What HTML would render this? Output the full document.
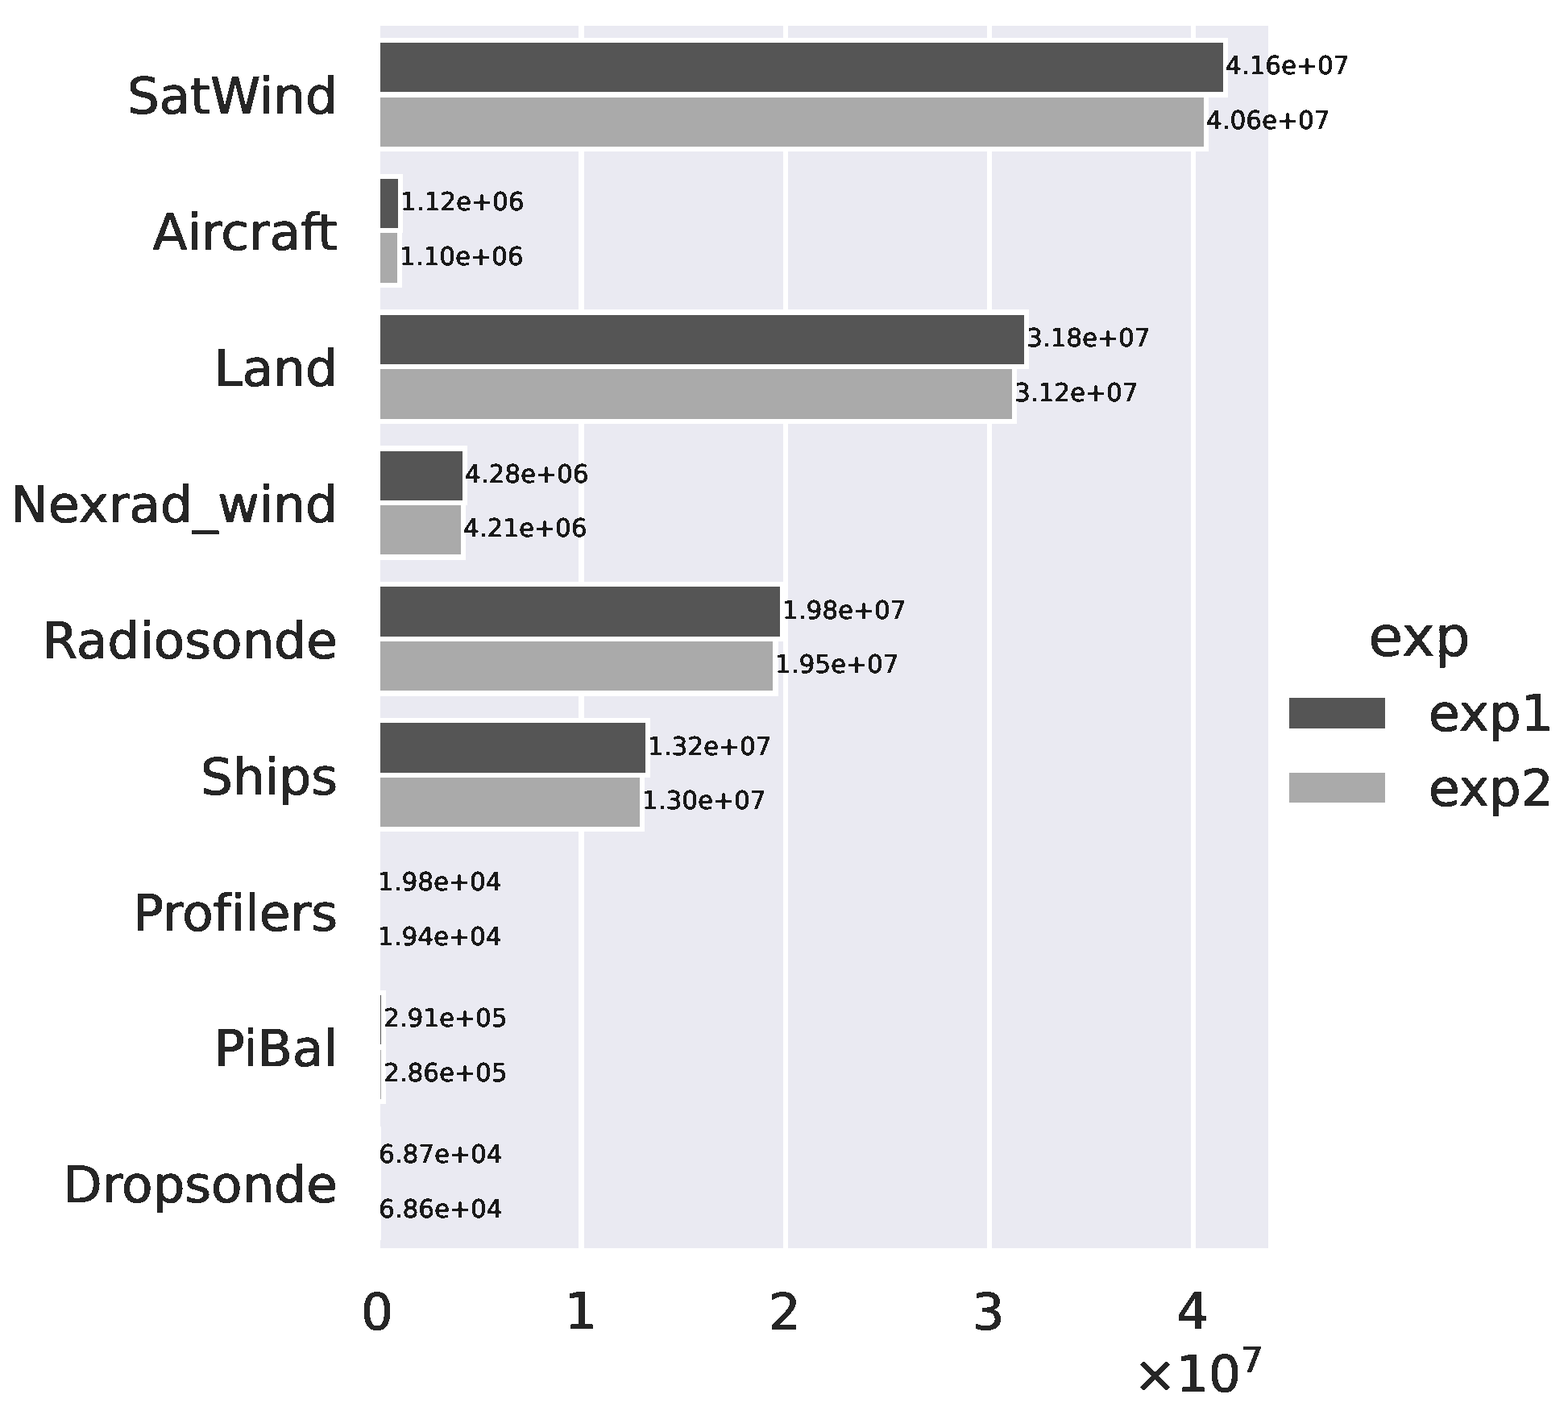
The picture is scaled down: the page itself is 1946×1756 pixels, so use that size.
<!DOCTYPE html>
<html lang="en">
<head>
<meta charset="utf-8">
<title>exp1 vs exp2 observation counts</title>
<style>
html,body{margin:0;padding:0;background:#ffffff}
body{width:1946px;height:1756px;overflow:hidden}
svg{display:block}
rect{shape-rendering:crispEdges}
text{font-family:'DejaVu Sans', 'Liberation Sans', sans-serif;font-kerning:normal;font-variant-ligatures:none;text-rendering:geometricPrecision;stroke-linejoin:miter}
.t{filter:url(#hardT);font-size:62.85px;fill:#262626;stroke:#262626;stroke-width:0.4}
.tt{filter:url(#hardT);font-size:69.1px;fill:#262626;stroke:#262626;stroke-width:0.1}
.a{filter:url(#hardA);font-size:31.25px;letter-spacing:-0.155px;fill:#1a1a1a;stroke:#1a1a1a;stroke-width:0.4}
.sup{font-size:43.99px}
.e{text-anchor:end}.m{text-anchor:middle}
.w{fill:#ffffff}.b1{fill:#555555}.b2{fill:#aaaaaa}
</style>
</head>
<body>
<svg width="1946" height="1756" viewBox="0 0 1946 1756">
<defs>
<!-- emulate the hard-edged (non-antialiased, hinted) glyph rendering of the original figure -->
<filter id="hardT" color-interpolation-filters="sRGB"><feConvolveMatrix order="3 1" kernelMatrix="1 1 1" divisor="3" edgeMode="none" preserveAlpha="false"/><feComponentTransfer><feFuncA type="discrete" tableValues="0 1 1"/></feComponentTransfer></filter>
<filter id="hardA" color-interpolation-filters="sRGB"><feConvolveMatrix order="3 3" kernelMatrix="0 1 0 1 1 1 0 1 0" divisor="5" edgeMode="none" preserveAlpha="false"/><feComponentTransfer><feFuncA type="discrete" tableValues="0 0 1 1 1"/></feComponentTransfer></filter>
</defs>
<rect class="w" x="0" y="0" width="1946" height="1756"/>
<!-- axes background -->
<rect x="472" y="32" width="1102" height="1517" fill="#eaeaf2"/>
<!-- vertical grid lines -->
<rect class="w" x="718" y="32" width="7" height="1517"/>
<rect class="w" x="972" y="32" width="6" height="1517"/>
<rect class="w" x="1225" y="32" width="6" height="1517"/>
<rect class="w" x="1478" y="32" width="6" height="1517"/>
<!-- bars: exp1 (white edge, then fill) -->
<rect class="w" x="472" y="47" width="1052" height="74"/>
<rect class="b1" x="472" y="53" width="1046" height="61"/>
<rect class="w" x="472" y="216" width="28" height="73"/>
<rect class="b1" x="472" y="222" width="22" height="61"/>
<rect class="w" x="472" y="384" width="805" height="74"/>
<rect class="b1" x="472" y="391" width="799" height="61"/>
<rect class="w" x="472" y="553" width="108" height="74"/>
<rect class="b1" x="472" y="560" width="102" height="61"/>
<rect class="w" x="472" y="722" width="502" height="74"/>
<rect class="b1" x="472" y="728" width="496" height="62"/>
<rect class="w" x="472" y="891" width="335" height="74"/>
<rect class="b1" x="472" y="897" width="329" height="62"/>
<rect class="w" x="472" y="1229" width="7" height="74"/>
<rect class="b1" x="472" y="1235" width="1" height="61"/>
<rect class="w" x="472" y="1398" width="1" height="73"/>
<!-- bars: exp2 (white edge, then fill) -->
<rect class="w" x="472" y="114" width="1028" height="74"/>
<rect class="b2" x="472" y="121" width="1022" height="61"/>
<rect class="w" x="472" y="283" width="27" height="74"/>
<rect class="b2" x="472" y="289" width="21" height="62"/>
<rect class="w" x="472" y="452" width="790" height="74"/>
<rect class="b2" x="472" y="458" width="784" height="62"/>
<rect class="w" x="472" y="621" width="106" height="74"/>
<rect class="b2" x="472" y="627" width="100" height="61"/>
<rect class="w" x="472" y="790" width="494" height="74"/>
<rect class="b2" x="472" y="796" width="487" height="61"/>
<rect class="w" x="472" y="959" width="328" height="73"/>
<rect class="b2" x="472" y="965" width="322" height="61"/>
<rect class="w" x="472" y="1296" width="7" height="74"/>
<rect class="b2" x="472" y="1303" width="1" height="61"/>
<rect class="w" x="472" y="1465" width="1" height="74"/>
<!-- bar value annotations -->
<g>
<text class="a" x="1521" y="92">4.16e+07</text>
<text class="a" x="1497" y="160">4.06e+07</text>
<text class="a" x="497" y="261">1.12e+06</text>
<text class="a" x="496" y="329">1.10e+06</text>
<text class="a" x="1274" y="430">3.18e+07</text>
<text class="a" x="1259" y="498">3.12e+07</text>
<text class="a" x="577" y="599">4.28e+06</text>
<text class="a" x="575" y="666">4.21e+06</text>
<text class="a" x="971" y="768">1.98e+07</text>
<text class="a" x="962" y="835">1.95e+07</text>
<text class="a" x="804" y="937">1.32e+07</text>
<text class="a" x="797" y="1004">1.30e+07</text>
<text class="a" x="469" y="1105">1.98e+04</text>
<text class="a" x="469" y="1173">1.94e+04</text>
<text class="a" x="476" y="1274">2.91e+05</text>
<text class="a" x="476" y="1342">2.86e+05</text>
<text class="a" x="470" y="1443">6.87e+04</text>
<text class="a" x="470" y="1511">6.86e+04</text>
</g>
<g>
<!-- y tick labels -->
<text class="t e" x="418.9" y="141">SatWind</text>
<text class="t e" x="418.9" y="310">Aircraft</text>
<text class="t e" x="418.9" y="479">Land</text>
<text class="t e" x="418.9" y="648">Nexrad_wind</text>
<text class="t e" x="418.9" y="817">Radiosonde</text>
<text class="t e" x="418.9" y="986">Ships</text>
<text class="t e" x="418.9" y="1155">Profilers</text>
<text class="t e" x="418.9" y="1323">PiBal</text>
<text class="t e" x="418.9" y="1492">Dropsonde</text>
<!-- x tick labels -->
<text class="t m" x="468" y="1650">0</text>
<text class="t m" x="721" y="1649">1</text>
<text class="t m" x="973.7" y="1650">2</text>
<text class="t m" x="1226.4" y="1650">3</text>
<text class="t m" x="1480.3" y="1649">4</text>
<!-- axis offset text -->
<text class="t" x="1407.3" y="1726.7">×10<tspan class="sup" dy="-23.6">7</tspan></text>
<!-- legend -->
<text class="tt m" x="1761.6" y="813.9">exp</text>
<text class="t" x="1773.1" y="906.6">exp1</text>
<text class="t" x="1773.1" y="999.5">exp2</text>
</g>
<rect class="b1" x="1600" y="866" width="119" height="38"/>
<rect class="b2" x="1600" y="959" width="119" height="37"/>
</svg>
</body>
</html>
